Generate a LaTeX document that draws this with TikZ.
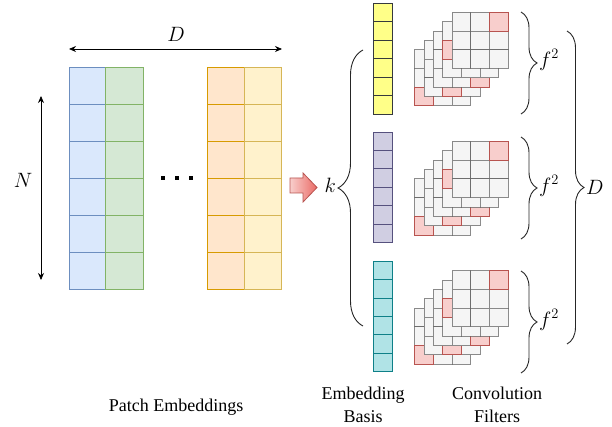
\documentclass[tikz,border=0pt]{standalone}
\usepackage{fontspec}
\setmainfont{Liberation Serif}
\usetikzlibrary{arrows.meta,decorations.pathreplacing}
\definecolor{blueF}{HTML}{DAE8FC}
\definecolor{blueD}{HTML}{6C8EBF}
\definecolor{greenF}{HTML}{D5E8D4}
\definecolor{greenD}{HTML}{82B366}
\definecolor{orangeF}{HTML}{FFE6CC}
\definecolor{orangeD}{HTML}{D79B00}
\definecolor{paleF}{HTML}{FFF2CC}
\definecolor{paleD}{HTML}{D6B656}
\definecolor{lemonF}{HTML}{FFFF88}
\definecolor{lemonD}{HTML}{36393D}
\definecolor{lilacF}{HTML}{D0CEE2}
\definecolor{lilacD}{HTML}{56517E}
\definecolor{tealF}{HTML}{B0E3E6}
\definecolor{tealD}{HTML}{0E8088}
\definecolor{greyF}{HTML}{F5F5F5}
\definecolor{greyD}{HTML}{666666}
\definecolor{roseF}{HTML}{F8CECC}
\definecolor{roseD}{HTML}{B85450}
\definecolor{roseS}{HTML}{EA6B66}

\begin{document}
\begin{tikzpicture}[x=1pt,y=-1pt,
		font=\fontsize{18}{21}\selectfont,
		label/.style={inner sep=1pt},
		sym/.style={inner sep=1pt,font=\fontsize{19.5}{22}\selectfont},
		dim/.style={{Stealth[length=7pt,width=6pt]}-{Stealth[length=7pt,width=6pt]},line width=0.8pt},
		brace/.style={decorate,line width=0.9pt,draw=black!85,decoration={brace,amplitude=#1}},
		fcell/.style={fill=greyF,draw=greyD,draw opacity=0.75,line width=0.8pt},
		rcell/.style={fill=roseF,draw=roseD,line width=0.8pt}]
	\useasboundingbox (0,0) rectangle (612,427);
	\foreach \x/\f/\d in {69/blueF/blueD,105.7/greenF/greenD,207.3/orangeF/orangeD,244.3/paleF/paleD}
		\foreach \r in {0,...,5}
			\draw[fill=\f,draw=\d,line width=0.8pt] (\x,67.7+36.9*\r) rectangle ++(37.2,36.9);
	\coordinate (dl) at (69,49);
	\coordinate (dr) at (282,49);
	\coordinate (nt) at (41,96);
	\coordinate (nb) at (41,280);
	\draw[dim] (dl) -- (dr);
	\draw[dim] (nt) -- (nb);
	\node[sym] (dlab) at (176,34) {$D$};
	\node[sym] (nlab) at (23,180) {$N$};
	\foreach \x in {163,177,191}
		\fill (\x-1.6,176.4) rectangle ++(3.2,3.2);
	\shade[left color=roseF,right color=roseS,draw=roseD,line width=0.8pt]
		(290,178) -- (303,178) -- (303,173) -- (317,187.5) -- (303,202) -- (303,193) -- (290,193) -- cycle;
	\foreach \y/\f/\d in {3.3/lemonF/lemonD,132/lilacF/lilacD,261/tealF/tealD}
		\foreach \r in {0,...,5}
			\draw[fill=\f,draw=\d,line width=0.8pt] (373,\y+18.45*\r) rectangle ++(19,18.45);
	\foreach \g in {12.3,141.5,270.7}
		\foreach \l/\rc/\rr in {0/0/2,1/1/2,2/2/2,3/0/1,4/2/0}{
			\foreach \i in {0,1,2}
				\foreach \j in {0,1,2}
					\draw[fcell] ({452-9.35*(4-\l)+18.7*\i},{\g+9.35*(4-\l)+18.7*\j}) rectangle ++(18.7,18.7);
			\draw[rcell] ({452-9.35*(4-\l)+18.7*\rc},{\g+9.35*(4-\l)+18.7*\rr}) rectangle ++(18.7,18.7);
		}
	\draw[brace=25pt] (363,326) -- (363,50);
	\node[sym,anchor=east] (klab) at (337,185) {$k$};
	\draw[brace=16pt] (521,12) -- (521,114);
	\draw[brace=16pt] (521,137) -- (521,239);
	\draw[brace=16pt] (521,271) -- (521,373);
	\node[sym,anchor=west] (f1) at (538,60) {$f^2$};
	\node[sym,anchor=west] (f2) at (538,186) {$f^2$};
	\node[sym,anchor=west] (f3) at (538,320) {$f^2$};
	\draw[brace=17pt] (567,31) -- (567,344);
	\node[sym,anchor=west] (dtot) at (585,187) {$D$};
	\node[label] (patch) at (176,407) {Patch Embeddings};
	\node[label,align=center,font=\fontsize{18}{23}\selectfont] (basis) at (363,405) {Embedding\\Basis};
	\node[label,align=center,font=\fontsize{18}{23}\selectfont] (filters) at (497,405) {Convolution\\Filters};
\end{tikzpicture}
\end{document}
